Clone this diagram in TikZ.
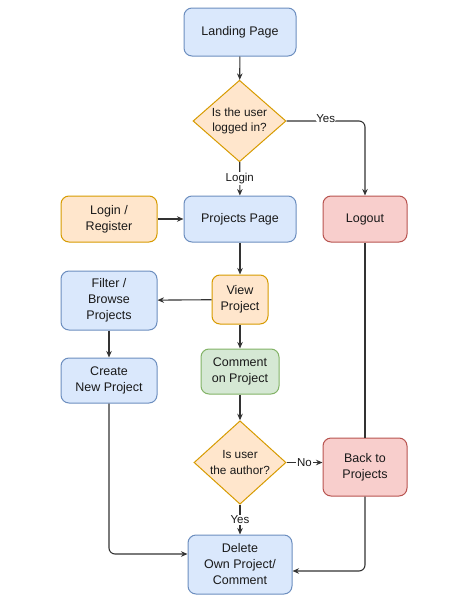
\documentclass[tikz,border=0pt]{standalone}
\usepackage{fontspec}
\setmainfont{Liberation Sans}
\usetikzlibrary{shapes.geometric,arrows.meta}
\definecolor{bfill}{HTML}{DAE8FC}\definecolor{bline}{HTML}{6C8EBF}
\definecolor{ofill}{HTML}{FFE6CC}\definecolor{oline}{HTML}{D79B00}
\definecolor{gfill}{HTML}{D5E8D4}\definecolor{gline}{HTML}{82B366}
\definecolor{rfill}{HTML}{F8CECC}\definecolor{rline}{HTML}{B85450}
\definecolor{edgec}{HTML}{333333}
\tikzset{
  box/.style={draw, rounded corners=8pt, line width=1pt, align=center, inner sep=0pt,
    font=\fontsize{12.5}{16}\selectfont, text=black!90},
  bluebox/.style={box, fill=bfill, draw=bline},
  orangebox/.style={box, fill=ofill, draw=oline},
  greenbox/.style={box, fill=gfill, draw=gline},
  redbox/.style={box, fill=rfill, draw=rline},
  decision/.style={diamond, draw=oline, fill=ofill, line width=1pt, align=center, inner sep=0pt,
    font=\fontsize{11.8}{15.5}\selectfont, text=black!90},
  conn/.style={draw=edgec, line width=1.1pt},
  arr/.style={conn, -{Stealth[length=6.5pt,width=5.5pt]}},
  elabel/.style={fill=white, inner sep=1pt, font=\fontsize{11.5}{14}\selectfont, text=black!90}
}
\begin{document}
\begin{tikzpicture}[x=1pt,y=-1pt]
\useasboundingbox (0,0) rectangle (461,605);
\node[bluebox, minimum width=112pt, minimum height=48pt] (landing) at (240,32) {Landing Page};
\node[decision, minimum width=93pt, minimum height=77pt] (d1) at (239.5,121) {Is the user\\logged in?};
\node[bluebox, minimum width=112pt, minimum height=46pt] (projects) at (240,219) {Projects Page};
\node[orangebox, minimum width=96pt, minimum height=46pt] (login) at (109,219) {Login /\\Register};
\node[redbox, minimum width=84pt, minimum height=46pt] (logout) at (365,219) {Logout};
\node[bluebox, minimum width=96pt, minimum height=59pt] (filter) at (109,300.5) {Filter /\\Browse\\Projects};
\node[orangebox, minimum width=56pt, minimum height=49pt] (view) at (240,299.5) {View\\Project};
\node[bluebox, minimum width=96pt, minimum height=45pt] (create) at (109,380.5) {Create\\New Project};
\node[greenbox, minimum width=78pt, minimum height=45pt] (comment) at (240,371.5) {Comment\\on Project};
\node[decision, minimum width=92pt, minimum height=79pt] (d2) at (240,462.5) {Is user\\the author?};
\node[redbox, minimum width=84pt, minimum height=58pt] (back) at (365,467) {Back to\\Projects};
\node[bluebox, minimum width=104pt, minimum height=59pt] (delete) at (240,564.5) {Delete\\Own Project/\\Comment};

\draw[arr] (landing) -- (d1);
\draw[arr] (d1) -- node[elabel] {Login} (projects);
\draw[arr, rounded corners=6pt] (d1.east) -- node[elabel, pos=0.5, yshift=2pt] {Yes} (logout.north |- d1.east) -- (logout.north);
\draw[arr] (login) -- (projects);
\draw[arr] (projects) -- (view);
\draw[arr] (view) -- (filter);
\draw[arr] (filter) -- (create);
\draw[arr] (view) -- (comment);
\draw[arr] (comment) -- (d2);
\draw[arr] (d2.east) -- node[elabel] {No} (back.west |- d2.east);
\draw[arr] (d2) -- node[elabel] {Yes} (delete);
\draw[conn] (logout) -- (back);
\draw[arr, rounded corners=6pt] (create.south) -- (create.south |- 0,554) -- (delete.west |- 0,554);
\draw[arr, rounded corners=6pt] (back.south) -- (back.south |- 0,571) -- (delete.east |- 0,571);
\end{tikzpicture}
\end{document}
